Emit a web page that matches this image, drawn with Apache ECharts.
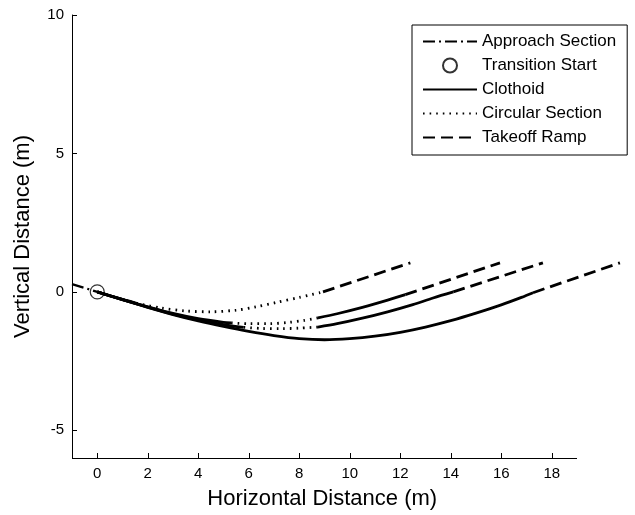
<!DOCTYPE html>
<html>
<head>
<meta charset="utf-8">
<script src="https://cdn.jsdelivr.net/npm/echarts@6/dist/echarts.min.js"></script>
<style>
  html, body { margin: 0; padding: 0; background: #fff; }
  #chart { width: 635px; height: 515px; }
</style>
</head>
<body>
<div id="chart"></div>
<script>
  /*----- data (x, y in metres) -----*/
  var xTicks = [0, 2, 4, 6, 8, 10, 12, 14, 16, 18];
  var yTicks = [-5, 0, 5, 10];
  var xAxisEnds = [-1, 19];   // drawn x-axis line; the last ramp runs past it
  var legendNames = ['Approach Section', 'Transition Start', 'Clothoid', 'Circular Section', 'Takeoff Ramp'];

  var approach = [[-1, 0.28], [0, 0]];
  var transitionStart = [[0, 0]];

  // profile 1
  var clothoid1 = [[0, 0], [0.8, -0.22], [1.55, -0.41]];
  var circular1 = [[1.55, -0.41], [2.5, -0.58], [3.5, -0.69], [4.5, -0.72], [5.5, -0.66], [6.3, -0.54], [7.1, -0.38], [8.0, -0.2], [8.94, 0]];
  var ramp1 = [[8.94, 0], [12.4, 1.05]];

  // profile 2
  var clothoid2a = [[0, 0], [1, -0.28], [2, -0.54], [3, -0.78], [4, -0.97], [5, -1.1], [5.3, -1.12]];
  var circular2 = [[5.3, -1.12], [6, -1.15], [6.8, -1.15], [7.6, -1.1], [8.2, -1.03], [8.74, -0.94]];
  var clothoid2b = [[8.74, -0.94], [9.5, -0.79], [10.5, -0.56], [11.5, -0.3], [12.2, -0.1]];
  var ramp2 = [[12.2, -0.1], [15.95, 1.05]];

  // profile 3
  var clothoid3a = [[0, 0], [1, -0.28], [2, -0.55], [3, -0.8], [4, -1.01], [5, -1.18], [5.8, -1.28]];
  var circular3 = [[5.8, -1.28], [6.5, -1.32], [7.3, -1.33], [8.0, -1.31], [8.74, -1.27]];
  var clothoid3b = [[8.74, -1.27], [9.5, -1.15], [10.5, -0.95], [11.5, -0.72], [12.5, -0.46], [13.3, -0.22], [14.1, 0]];
  var ramp3 = [[14.1, 0], [17.65, 1.05]];

  // profile 4
  var clothoid4 = [[0, 0], [1, -0.28], [2, -0.56], [3, -0.82], [4, -1.05], [5, -1.25], [6, -1.43], [7, -1.58], [8, -1.69], [9, -1.73], [10, -1.69], [11, -1.6], [12, -1.46], [13, -1.27], [14, -1.04], [15, -0.77], [16, -0.47], [16.8, -0.2], [17.26, -0.03]];
  var ramp4 = [[17.26, -0.03], [20.7, 1.05]];

  var font = 'Liberation Sans, Arial, Helvetica, sans-serif';

  var styles = {
    'Approach Section': { type: [12, 4, 2, 4], width: 2.2 },
    'Clothoid': { type: 'solid', width: 2.8 },
    'Circular Section': { type: [1.6, 5], width: 2.8 },
    'Takeoff Ramp': { type: [12, 6], width: 2.8 }
  };

  function seg(name, data) {
    return {
      name: name,
      type: 'line',
      data: data,
      smooth: data.length > 2 ? 0.3 : false,
      symbol: 'none',
      silent: true,
      lineStyle: { color: '#000', width: styles[name].width, type: styles[name].type },
      itemStyle: { color: '#000' }
    };
  }

  var series = [
    seg('Approach Section', approach),
    seg('Clothoid', clothoid1),
    seg('Circular Section', circular1),
    seg('Takeoff Ramp', ramp1),
    seg('Clothoid', clothoid2a),
    seg('Circular Section', circular2),
    seg('Clothoid', clothoid2b),
    seg('Takeoff Ramp', ramp2),
    seg('Clothoid', clothoid3a),
    seg('Circular Section', circular3),
    seg('Clothoid', clothoid3b),
    seg('Takeoff Ramp', ramp3),
    seg('Clothoid', clothoid4),
    seg('Takeoff Ramp', ramp4),
    {
      name: 'Transition Start',
      type: 'scatter',
      data: transitionStart,
      symbol: 'circle',
      symbolSize: 14,
      silent: true,
      itemStyle: { color: 'rgba(0,0,0,0)', borderColor: '#000', borderWidth: 1.2 },
      // x-axis line, stopping at x = 19 like the original axes
      markLine: {
        silent: true,
        symbol: 'none',
        label: { show: false },
        lineStyle: { color: '#000', width: 1, type: 'solid' },
        data: [[{ coord: [xAxisEnds[0], -6] }, { coord: [xAxisEnds[1], -6] }]]
      }
    }
  ];

  // legend entries: hide the marker dot on the line samples
  var legendData = legendNames.map(function (n) {
    if (n === 'Transition Start') return { name: n };
    return { name: n, itemStyle: { opacity: 0 } };
  });

  var chart = echarts.init(document.getElementById('chart'));

  var option = {
    animation: false,
    backgroundColor: '#fff',
    grid: {
      top: 15,
      bottom: 56,
      left: 72,
      right: 7.5
    },
    legend: {
      data: legendData,
      orient: 'vertical',
      left: 412,
      top: 25,
      padding: [8, 11, 9, 10],
      itemWidth: 54,
      itemHeight: 14,
      itemGap: 7,
      borderColor: '#000',
      borderWidth: 1,
      selectedMode: false,
      textStyle: { fontFamily: font, fontSize: 17, color: '#000' }
    },
    xAxis: {
      type: 'value',
      min: -1,
      max: 21,
      name: 'Horizontal Distance (m)',
      nameLocation: 'middle',
      nameGap: 30,
      nameTextStyle: { fontFamily: font, fontSize: 22, color: '#000', padding: [0, 55, 0, 0] },
      axisLine: { show: false, onZero: false },
      axisTick: { show: true, inside: true, length: 5, customValues: xTicks, lineStyle: { color: '#000' } },
      axisLabel: { customValues: xTicks, margin: 8, fontFamily: font, fontSize: 15, color: '#000' },
      splitLine: { show: false }
    },
    yAxis: {
      type: 'value',
      min: -6,
      max: 10,
      name: 'Vertical Distance (m)',
      nameLocation: 'middle',
      nameGap: 38,
      nameTextStyle: { fontFamily: font, fontSize: 22, color: '#000' },
      axisLine: { show: true, onZero: false, lineStyle: { color: '#000', width: 1 } },
      axisTick: { show: true, inside: true, length: 5, customValues: yTicks, lineStyle: { color: '#000' } },
      axisLabel: { customValues: yTicks, margin: 8, fontFamily: font, fontSize: 15, color: '#000' },
      splitLine: { show: false }
    },
    series: series
  };

  chart.setOption(option);
</script>
</body>
</html>
